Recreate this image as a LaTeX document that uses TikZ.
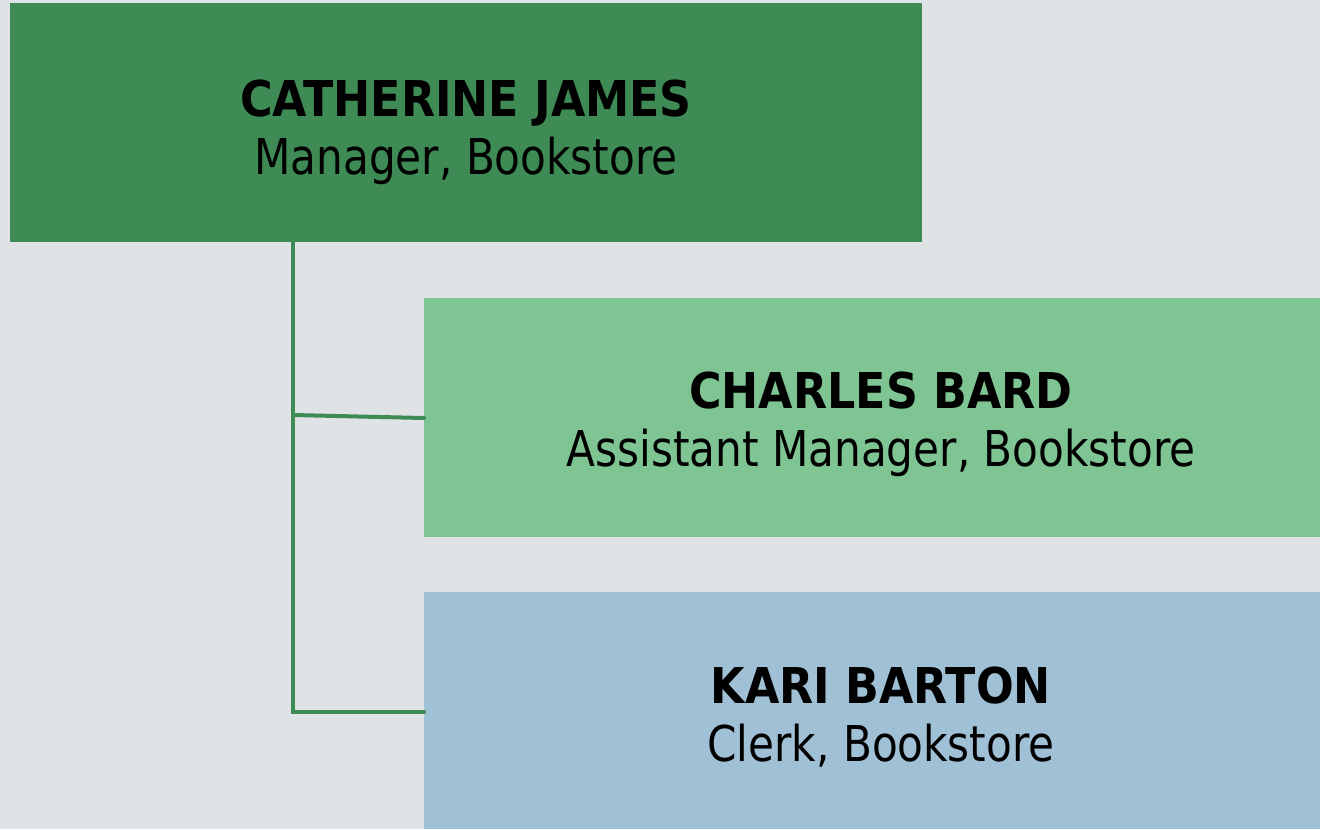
\documentclass[tikz,border=0pt]{standalone}
\usepackage{fontspec}
\setmainfont{DejaVu Sans Condensed}
\newfontfamily\titlefont[FakeStretch=0.95]{DejaVu Sans Condensed}
\definecolor{bg}{HTML}{DFE3E6}
\definecolor{topc}{HTML}{3F8B55}
\definecolor{midc}{HTML}{7FC594}
\definecolor{botc}{HTML}{A0C0D5}
\definecolor{linec}{HTML}{3F8B55}
\begin{document}
\begin{tikzpicture}[x=0.75pt,y=-0.75pt,
  box/.style={draw=none,inner sep=0pt,outer sep=0pt},
  namet/.style={anchor=base,inner sep=0pt,font=\fontsize{37}{40}\selectfont\bfseries},
  titlet/.style={anchor=base,inner sep=0pt,font=\titlefont\fontsize{37}{40}\selectfont},
  conn/.style={draw=linec,line width=3pt,line cap=round}]
\fill[bg] (0,0) rectangle (1320,829);
\useasboundingbox (0,0) rectangle (1320,829);
\node[box,fill=topc,minimum width=684pt,minimum height=179.25pt] (ceo) at (466,122.5) {};
\node[box,fill=midc,minimum width=672pt,minimum height=179.25pt] (asst) at (872,417.5) {};
\node[box,fill=botc,minimum width=672pt,minimum height=177.75pt] (clerk) at (872,710.5) {};
\node[namet] (n1) at (466,116) {CATHERINE JAMES};
\node[titlet] (t1) at (466,174) {Manager, Bookstore};
\node[namet] (n2) at (881,408) {CHARLES BARD};
\node[titlet] (t2) at (881,466) {Assistant Manager, Bookstore};
\node[namet] (n3) at (881,703) {KARI BARTON};
\node[titlet] (t3) at (881,761) {Clerk, Bookstore};
\coordinate (top) at (293,242);
\coordinate (j1) at (293,415);
\coordinate (j2) at (293,712);
\draw[conn] (ceo.south -| top) -- (j2) -- (clerk.west |- j2);
\draw[conn] (j1) -- (asst.west |- 0,418);
\end{tikzpicture}
\end{document}
